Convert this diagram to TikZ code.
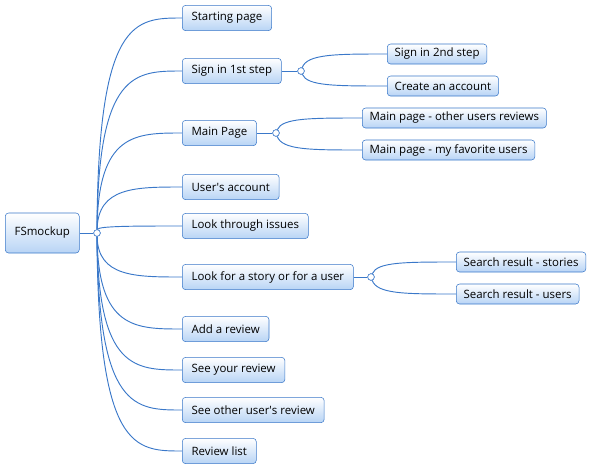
\documentclass[tikz,border=0pt]{standalone}
\usepackage{fontspec}
\setmainfont{Open Sans}
\usetikzlibrary{calc}
\definecolor{mapline}{HTML}{3A78C9}
\definecolor{mapfill}{HTML}{B8D4F5}

\begin{document}
\begin{tikzpicture}[x=0.75pt,y=-0.75pt,
    topic/.style={draw=mapline,rounded corners=2.5pt,top color=white,bottom color=mapfill,
      font=\fontsize{8.6}{10}\selectfont,inner xsep=7pt,inner ysep=0pt,minimum height=19pt,anchor=west},
    subtopic/.style={topic,minimum height=15pt,inner xsep=5.5pt},
    knot/.style={circle,draw=mapline,fill=white,inner sep=0pt,minimum size=5pt},
    link/.style={mapline,line width=0.7pt}]
    \useasboundingbox (0,0) rectangle (597,472);

    % central topic
    \node[topic,minimum width=54pt,minimum height=30pt] (root) at (5,233) {FSmockup};
    \node[knot] (hub) at (97,233) {};

    % main topics
    \node[topic] (start)   at (182,18)  {Starting page};
    \node[topic] (signa)   at (182,71)  {Sign in 1st step};
    \node[topic] (mainp)   at (182,133) {Main Page};
    \node[topic] (account) at (182,187) {User\textquotesingle s account};
    \node[topic] (issues)  at (182,226) {Look through issues};
    \node[topic] (lookfor) at (182,277) {Look for a story or for a user};
    \node[topic] (addrev)  at (182,329) {Add a review};
    \node[topic] (yourrev) at (182,370) {See your review};
    \node[topic] (otherrev) at (182,410) {See other user\textquotesingle s review};
    \node[topic] (revlist) at (182,451) {Review list};

    % sub topics
    \node[knot] (signknot) at (301,71) {};
    \node[subtopic] (signb)   at (387,54)  {Sign in 2nd step};
    \node[subtopic] (create)  at (387,86)  {Create an account};
    \node[knot] (mainknot) at (276,133) {};
    \node[subtopic] (mainrev) at (362,118) {Main page - other users reviews};
    \node[subtopic] (mainfav) at (362,150) {Main page - my favorite users};
    \node[knot] (lookknot) at (371,277) {};
    \node[subtopic] (resstory) at (456,262) {Search result - stories};
    \node[subtopic] (resuser)  at (456,294) {Search result - users};

    % connectors
    \draw[link] (root) -- (hub);
    \foreach \n in {start,signa,mainp,account,issues,lookfor,addrev,yourrev,otherrev,revlist}
      \draw[link] (hub) .. controls ($(hub |- \n.west)+(1,0)$) and ($(hub |- \n.west)!0.45!(\n.west)$) .. (\n.west);
    \draw[link] (signa) -- (signknot);
    \draw[link] (mainp) -- (mainknot);
    \draw[link] (lookfor) -- (lookknot);
    \foreach \k/\n in {signknot/signb,signknot/create,mainknot/mainrev,mainknot/mainfav,lookknot/resstory,lookknot/resuser}
      \draw[link] (\k) .. controls ($(\k |- \n.west)+(6,0)$) and ($(\k |- \n.west)!0.4!(\n.west)$) .. (\n.west);
    \foreach \k in {hub,signknot,mainknot,lookknot}
      \node[knot] at (\k) {};
\end{tikzpicture}
\end{document}
